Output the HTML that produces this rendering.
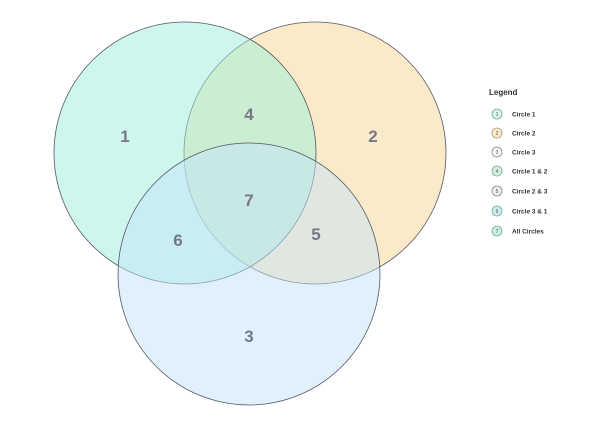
<!DOCTYPE html>
<html><head><style>body{margin:0;background:#fff}svg{display:block}</style></head><body>
<svg width="603" height="422" viewBox="0 0 603 422" xmlns="http://www.w3.org/2000/svg" font-family="Liberation Sans, sans-serif">
<g stroke="#556" stroke-width="0.8">
<circle cx="315" cy="153" r="131" fill="#f7d68f" fill-opacity="0.5"/>
<circle cx="185" cy="153" r="131" fill="#9cf0dc" fill-opacity="0.5"/>
<circle cx="249" cy="274" r="131" fill="#c4e3f9" fill-opacity="0.5"/>
</g>
<g fill="#778" font-size="17" font-weight="bold" text-anchor="middle">
<text x="125" y="142">1</text><text x="373" y="142">2</text><text x="249" y="342">3</text>
<text x="249" y="120">4</text><text x="316" y="240">5</text><text x="178" y="246">6</text><text x="249" y="206">7</text>
</g>
<text x="489" y="95" font-size="8" font-weight="bold" fill="#333">Legend</text>
<g font-size="6.5" font-weight="bold" fill="#333" stroke-width="0.8">
<circle cx="497" cy="114" r="5" fill="#d2f7ee" stroke="#7a9"/><text x="512" y="116.5">Circle 1</text>
<circle cx="497" cy="133" r="5" fill="#fbecc4" stroke="#a98"/><text x="512" y="135.5">Circle 2</text>
<circle cx="497" cy="152" r="5" fill="#f4f9fd" stroke="#888"/><text x="512" y="154.5">Circle 3</text>
<circle cx="497" cy="171" r="5" fill="#d5f0dc" stroke="#7a9"/><text x="512" y="173.5">Circle 1 &amp; 2</text>
<circle cx="497" cy="191" r="5" fill="#eeeee6" stroke="#888"/><text x="512" y="193.5">Circle 2 &amp; 3</text>
<circle cx="497" cy="211" r="5" fill="#c8eef0" stroke="#7a9"/><text x="512" y="213.5">Circle 3 &amp; 1</text>
<circle cx="497" cy="231" r="5" fill="#c8eee0" stroke="#7a9"/><text x="512" y="233.5">All Circles</text>
</g>
<g font-size="5" fill="#555" text-anchor="middle">
<text x="497" y="116">1</text><text x="497" y="135">2</text><text x="497" y="154">3</text><text x="497" y="173">4</text><text x="497" y="193">5</text><text x="497" y="213">6</text><text x="497" y="233">7</text>
</g>
</svg>
</body></html>
